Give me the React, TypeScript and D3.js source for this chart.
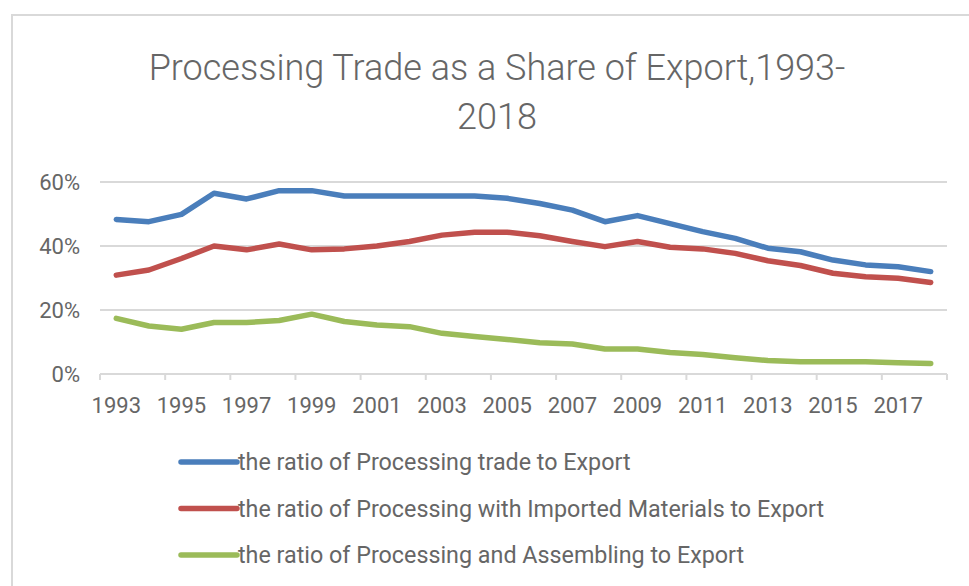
import React from 'react'
import * as d3 from 'd3'

const years = [
  1993, 1994, 1995, 1996, 1997, 1998, 1999, 2000, 2001, 2002, 2003, 2004, 2005,
  2006, 2007, 2008, 2009, 2010, 2011, 2012, 2013, 2014, 2015, 2016, 2017, 2018,
]

// shares of export, in percent
const processingTrade = [
  48.3, 47.6, 49.9, 56.5, 54.7, 57.3, 57.3, 55.6, 55.6, 55.6, 55.6, 55.6, 54.9,
  53.3, 51.2, 47.6, 49.5, 47.0, 44.5, 42.4, 39.3, 38.2, 35.6, 34.1, 33.5, 32.0,
]
const importedMaterials = [
  30.9, 32.5, 36.1, 40.0, 38.8, 40.6, 38.8, 39.1, 40.0, 41.4, 43.4, 44.3, 44.3,
  43.2, 41.4, 39.8, 41.4, 39.6, 39.1, 37.7, 35.4, 33.9, 31.5, 30.4, 29.9, 28.6,
]
const assembling = [
  17.4, 15.0, 14.0, 16.1, 16.1, 16.7, 18.7, 16.4, 15.3, 14.8, 12.7, 11.7, 10.8,
  9.8, 9.4, 7.8, 7.8, 6.7, 6.1, 5.1, 4.2, 3.8, 3.8, 3.8, 3.5, 3.3,
]

const seriesNames = [
  'the ratio of Processing trade to Export',
  'the ratio of Processing with Imported Materials to Export',
  'the ratio of Processing and Assembling to Export',
]
const seriesColors = ['#4a7ebb', '#c0504d', '#9bbb59']
const yTicks = [0, 20, 40, 60]

const width = 969
const height = 586
const left = 100
const right = 947
const top = 182
const bottom = 374
const font = "Roboto, 'Noto Sans', sans-serif"
const textColor = '#666666'

export default function App() {
  const series = [processingTrade, importedMaterials, assembling]

  const x = d3
    .scaleBand<number>()
    .domain(years)
    .range([left, right])
  const y = d3.scaleLinear().domain([0, 60]).range([bottom, top])

  const line = d3
    .line<number>()
    .x((_, i) => (x(years[i]) as number) + x.bandwidth() / 2)
    .y((d) => y(d))

  // ticks between categories, every 2 years
  const tickYears = years.filter((_, i) => i % 2 === 0)

  return (
    <div style={{ position: 'absolute', left: 0, top: 0 }}>
      <svg width={width} height={height} style={{ display: 'block', background: '#fff' }}>
        <rect x={12} y={15} width={width + 20} height={height + 20} fill="#fff" stroke="#d9d9d9" strokeWidth={2} />

        <g fontFamily={font} fontWeight={300} fill={textColor} textAnchor="middle">
          <text x={497} y={80} fontSize={36}>
            Processing Trade as a Share of Export,1993-
          </text>
          <text x={497} y={129} fontSize={36}>
            2018
          </text>
        </g>

        {yTicks.map((t) => (
          <g key={t}>
            {t > 0 && (
              <line x1={left} x2={right} y1={y(t)} y2={y(t)} stroke="#d9d9d9" strokeWidth={2} />
            )}
            <text
              x={80}
              y={y(t)}
              dy="0.35em"
              textAnchor="end"
              fontFamily={font}
              fontSize={22}
              fill={textColor}
            >
              {t}%
            </text>
          </g>
        ))}

        <line x1={left} x2={right} y1={bottom} y2={bottom} stroke="#d9d9d9" strokeWidth={2} />
        {tickYears.map((yr) => (
          <line
            key={'t' + yr}
            x1={x(yr) as number}
            x2={x(yr) as number}
            y1={bottom}
            y2={bottom + 6}
            stroke="#d9d9d9"
            strokeWidth={2}
          />
        ))}
        <line x1={right} x2={right} y1={bottom} y2={bottom + 6} stroke="#d9d9d9" strokeWidth={2} />
        {tickYears.map((yr) => (
          <text
            key={'l' + yr}
            x={(x(yr) as number) + x.bandwidth() / 2}
            y={413}
            textAnchor="middle"
            fontFamily={font}
            fontSize={22}
            fill={textColor}
          >
            {yr}
          </text>
        ))}

        {series.map((s, i) => (
          <path
            key={seriesNames[i]}
            d={line(s) || ''}
            fill="none"
            stroke={seriesColors[i]}
            strokeWidth={5.5}
            strokeLinejoin="round"
            strokeLinecap="round"
          />
        ))}

        {seriesNames.map((name, i) => (
          <g key={name} transform={`translate(181, ${462 + i * 46.5})`}>
            <line x1={0} x2={56} y1={0} y2={0} stroke={seriesColors[i]} strokeWidth={5.5} strokeLinecap="round" />
            <text x={57} y={0} dy="0.35em" fontFamily={font} fontSize={23.3} fill={textColor}>
              {name}
            </text>
          </g>
        ))}
      </svg>
    </div>
  )
}
